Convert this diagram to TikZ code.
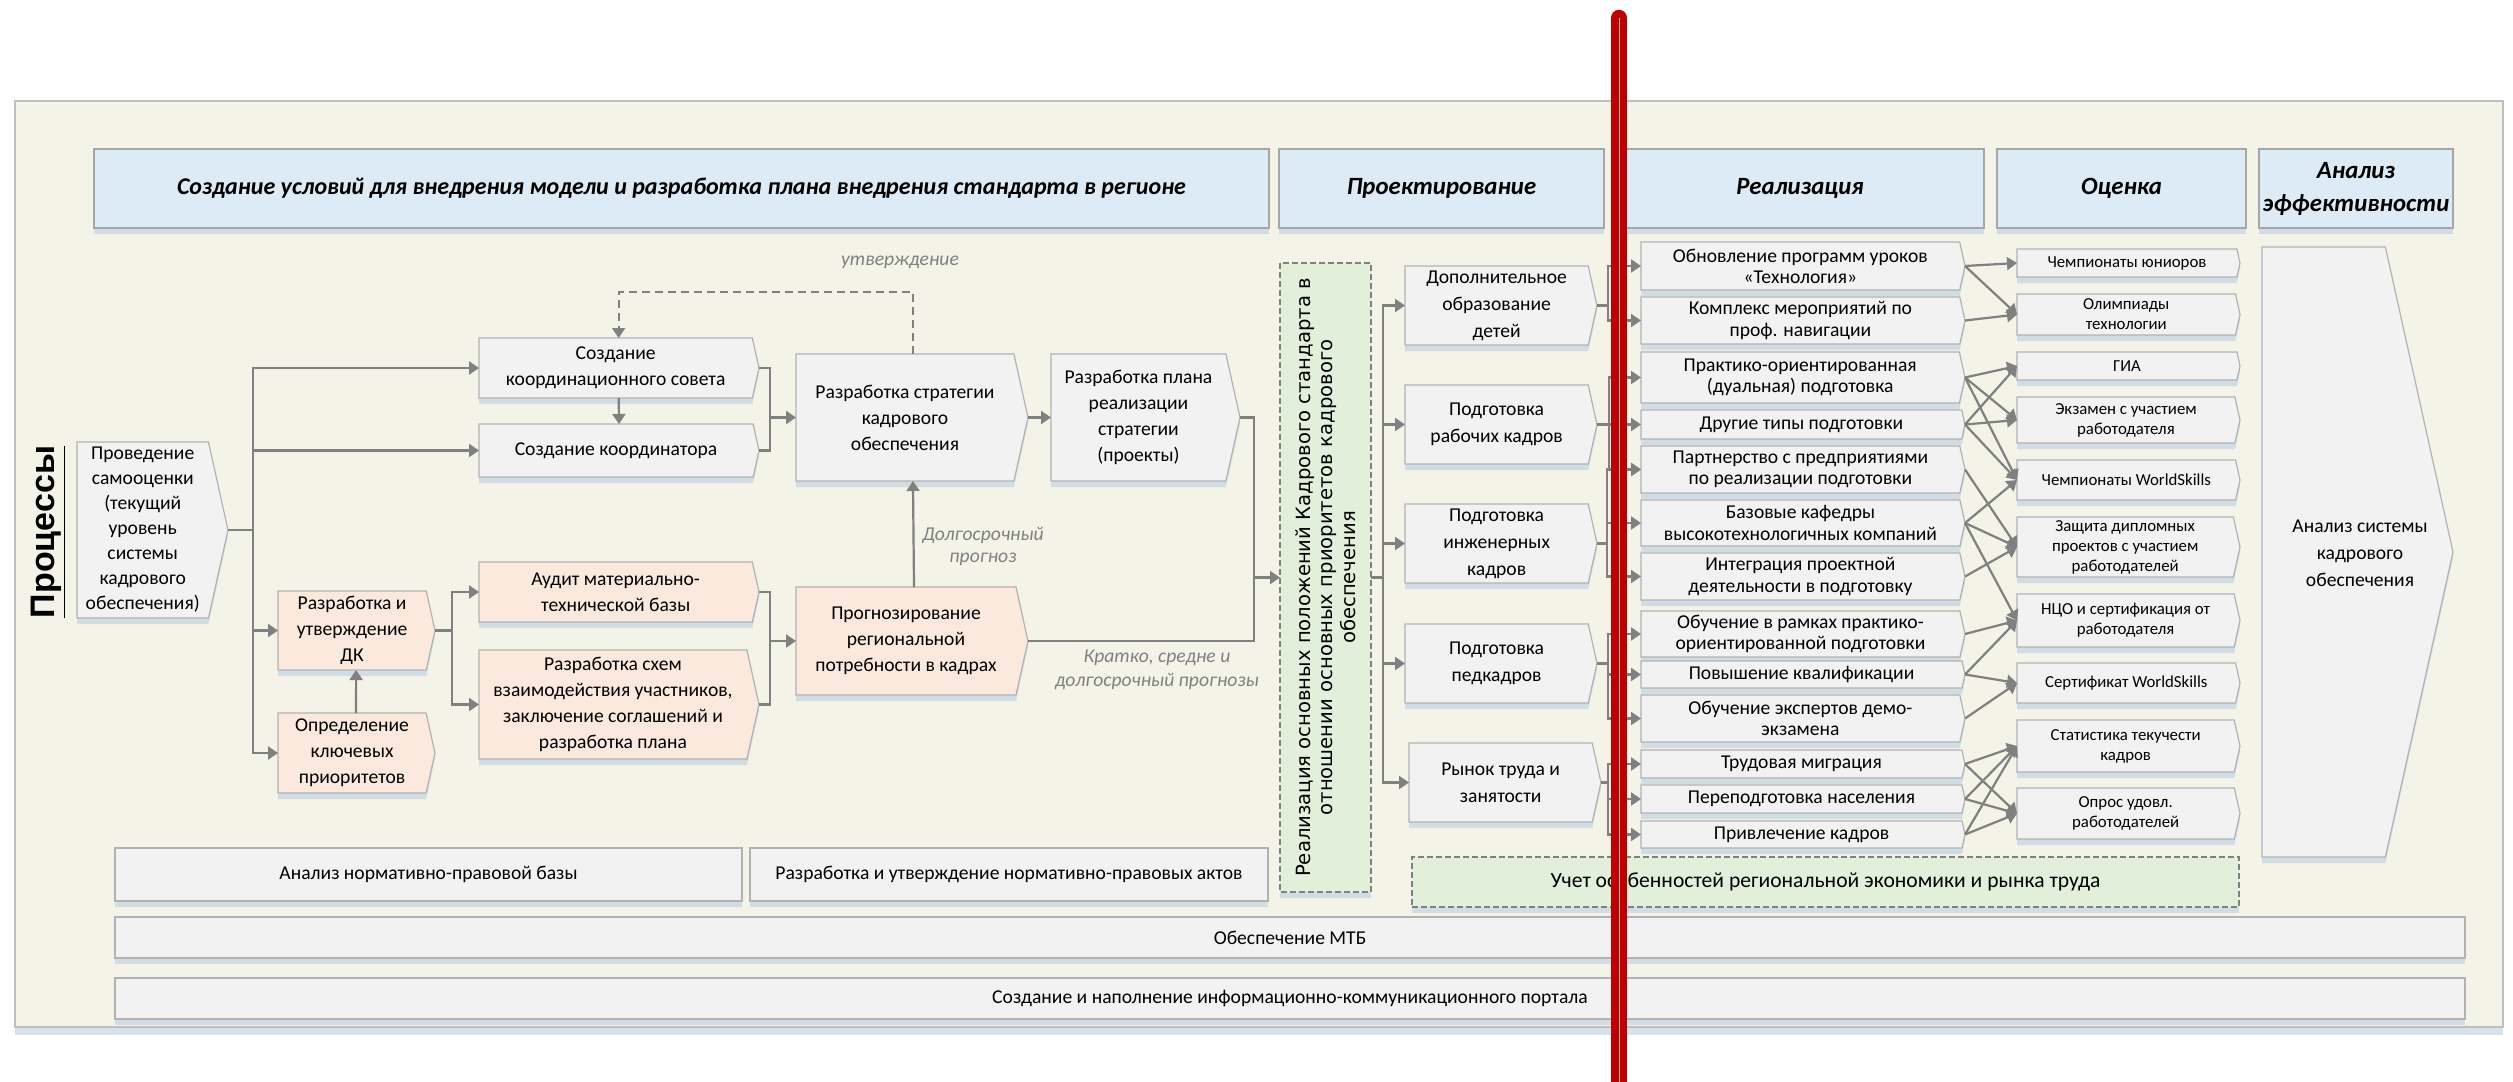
\documentclass[tikz,border=0pt]{standalone}
\usepackage{fontspec}
\setmainfont{Carlito}
\newfontfamily\vertfont{DejaVu Sans}
\newfontfamily\titlefont{Liberation Sans}
\usetikzlibrary{shapes.symbols,arrows.meta,shadows}

\definecolor{panelc}{RGB}{243,243,232}
\definecolor{panelb}{RGB}{191,191,191}
\definecolor{headc}{RGB}{221,235,247}
\definecolor{headb}{RGB}{166,166,166}
\definecolor{boxc}{RGB}{242,242,242}
\definecolor{boxb}{RGB}{178,178,178}
\definecolor{peachc}{RGB}{252,233,221}
\definecolor{greenc}{RGB}{226,239,218}
\definecolor{linec}{RGB}{128,128,128}
\definecolor{shadc}{RGB}{206,219,229}
\definecolor{redc}{RGB}{192,0,0}

\tikzset{
  sz/.style 2 args={minimum width=#1*0.5pt,minimum height=#2*0.5pt},
  base/.style={draw=boxb,line width=0.6pt,inner sep=1pt,outer sep=0pt,align=center,
    drop shadow={shadow xshift=0pt,shadow yshift=-3pt,fill=shadc,opacity=0.9}},
  head/.style={base,rectangle,fill=headc,draw=headb,
    font=\fontsize{12.4}{16.5}\selectfont\bfseries\itshape},
  tag/.style={base,signal,signal to=east,signal pointer angle=155,fill=boxc,anchor=west,
    font=\fontsize{9.8}{13}\selectfont},
  peach/.style={tag,fill=peachc},
  real/.style={tag,font=\fontsize{9.8}{10.6}\selectfont},
  eval/.style={tag,font=\fontsize{8.4}{10}\selectfont},
  plain/.style={base,rectangle,fill=boxc,font=\fontsize{9.8}{12}\selectfont},
  greenbox/.style={base,rectangle,fill=greenc,draw=linec,dash pattern=on 3pt off 1.5pt},
  line/.style={draw=linec,line width=1.1pt},
  arr/.style={line,-{Triangle[length=5pt,width=6.5pt]}},
  dline/.style={draw=linec,line width=0.9pt,dash pattern=on 4pt off 2.5pt},
  note/.style={text=linec,align=center,font=\fontsize{9.8}{11.5}\selectfont\itshape},
}

\begin{document}
\begin{tikzpicture}[x=0.5pt,y=0.5pt,yscale=-1,xscale=1]
\useasboundingbox (0,0) rectangle (2513,1082);

%Shape: Rectangle (panel)
\draw [draw=panelb,fill=panelc,line width=0.8pt,drop shadow={shadow xshift=0pt,shadow yshift=-4pt,fill=shadc,opacity=0.8}] (15,101) rectangle (2503,1027);

% Text Node
\node [rotate=90,font=\titlefont\fontsize{17}{17}\selectfont\bfseries] (procs) at (48,532) {\underline{Процессы}};

%Shape: Headers
\node [head,sz={1175}{79},font=\fontsize{12}{16.5}\selectfont\bfseries\itshape] (h1) at (681.5,188.5) {Создание условий для внедрения модели и разработка плана внедрения стандарта в регионе};
\node [head,sz={325}{79}] (h2) at (1441.5,188.5) {Проектирование};
\node [head,sz={368}{79}] (h3) at (1800,188.5) {Реализация};
\node [head,sz={249}{79}] (h4) at (2121.5,188.5) {Оценка};
\node [head,sz={194}{79}] (h5) at (2356,188.5) {Анализ\\эффективности};

%Shape: Process boxes
\node [tag,sz={151}{176},font=\fontsize{9.8}{12.5}\selectfont] (self) at (77,530) {Проведение\\самооценки\\(текущий\\уровень\\системы\\кадрового\\обеспечения)};
\node [tag,sz={280}{60}] (council) at (479,368) {Создание\\координационного совета};
\node [tag,sz={280}{53}] (coord) at (479,450.5) {Создание координатора};
\node [tag,sz={232}{127}] (strat) at (796,417.5) {Разработка стратегии\\кадрового\\обеспечения};
\node [tag,sz={189}{127}] (plan) at (1051,417.5) {Разработка плана\\реализации\\стратегии\\(проекты)};
\node [peach,sz={157}{79}] (dk) at (278,630.5) {Разработка и\\утверждение\\ДК};
\node [peach,sz={157}{80}] (prio) at (278,753) {Определение\\ключевых\\приоритетов};
\node [peach,sz={280}{60}] (audit) at (479,592) {Аудит материально-\\технической базы};
\node [peach,sz={280}{109}] (scheme) at (479,704.5) {Разработка схем\\взаимодействия участников,\\заключение соглашений и\\разработка плана};
\node [peach,sz={232}{108}] (fore) at (796,641) {Прогнозирование\\региональной\\потребности в кадрах};

% Text Node
\node [note] (appr) at (900,262) {утверждение};
\node [note,font=\fontsize{9.8}{11}\selectfont\itshape] (longf) at (983,546) {Долгосрочный\\прогноз};
\node [note,font=\fontsize{9.8}{12}\selectfont\itshape] (shortf) at (1157,670) {Кратко, средне и\\долгосрочный прогнозы};

%Shape: Rectangle (core)
\node [greenbox,rotate=90,sz={629}{91},font=\vertfont\fontsize{9.8}{11.2}\selectfont] (core) at (1325.5,577.5) {Реализация основных положений Кадрового стандарта в\\отношении основных приоритетов кадрового\\обеспечения};

%Shape: Design boxes
\node [tag,sz={192}{79},font=\fontsize{9.8}{13.5}\selectfont] (d1) at (1405,305.5) {Дополнительное\\образование\\детей};
\node [tag,sz={192}{79},font=\fontsize{9.8}{13.5}\selectfont] (d2) at (1405,424.5) {Подготовка\\рабочих кадров};
\node [tag,sz={192}{79},font=\fontsize{9.8}{13.5}\selectfont] (d3) at (1405,543.5) {Подготовка\\инженерных\\кадров};
\node [tag,sz={192}{79},font=\fontsize{9.8}{13.5}\selectfont] (d4) at (1405,663.5) {Подготовка\\педкадров};
\node [tag,sz={192}{79},font=\fontsize{9.8}{13.5}\selectfont] (d5) at (1409,782.5) {Рынок труда и\\занятости};

%Shape: Realisation boxes
\node [real,sz={324}{48}] (r1) at (1641,266) {Обновление программ уроков\\«Технология»};
\node [real,sz={324}{47}] (r2) at (1641,320.5) {Комплекс мероприятий по\\проф. навигации};
\node [real,sz={324}{51}] (r3) at (1641,377.5) {Практико-ориентированная\\(дуальная) подготовка};
\node [real,sz={324}{29}] (r4) at (1641,424.5) {Другие типы подготовки};
\node [real,sz={324}{47}] (r5) at (1641,469.5) {Партнерство с предприятиями\\по реализации подготовки};
\node [real,sz={324}{46}] (r6) at (1641,523) {Базовые кафедры\\высокотехнологичных компаний};
\node [real,sz={324}{47}] (r7) at (1641,576.5) {Интеграция проектной\\деятельности в подготовку};
\node [real,sz={324}{46}] (r8) at (1641,634) {Обучение в рамках практико-\\ориентированной подготовки};
\node [real,sz={324}{27}] (r9) at (1641,674.5) {Повышение квалификации};
\node [real,sz={324}{47}] (r10) at (1641,718.5) {Обучение экспертов демо-\\экзамена};
\node [real,sz={324}{28}] (r11) at (1641,764) {Трудовая миграция};
\node [real,sz={324}{28}] (r12) at (1641,799) {Переподготовка населения};
\node [real,sz={324}{27}] (r13) at (1641,834.5) {Привлечение кадров};

%Shape: Evaluation boxes
\node [eval,sz={223}{28}] (ea) at (2017,263) {Чемпионаты юниоров};
\node [eval,sz={223}{41}] (eb) at (2017,314.5) {Олимпиады\\технологии};
\node [eval,sz={223}{28}] (ec) at (2017,366) {ГИА};
\node [eval,sz={223}{46}] (ed) at (2017,420) {Экзамен с участием\\работодателя};
\node [eval,sz={223}{40}] (ee) at (2017,480) {Чемпионаты WorldSkills};
\node [eval,sz={223}{60}] (ef) at (2017,547) {Защита дипломных\\проектов с участием\\работодателей};
\node [eval,sz={223}{53}] (eg) at (2017,620.5) {НЦО и сертификация от\\работодателя};
\node [eval,sz={223}{40}] (eh) at (2017,683) {Сертификат WorldSkills};
\node [eval,sz={223}{52}] (ei) at (2017,746) {Статистика текучести\\кадров};
\node [eval,sz={223}{51}] (ej) at (2017,813.5) {Опрос удовл.\\работодателей};

%Shape: Analysis box
\node [tag,sz={191}{610}] (anal) at (2262,552) {};
% Text Node
\node [font=\fontsize{9.8}{13.4}\selectfont,align=center] (analt) at (2360,553) {Анализ системы\\кадрового\\обеспечения};

%Shape: Bottom boxes
\node [plain,sz={627}{53}] (norm) at (428.5,874.5) {Анализ нормативно-правовой базы};
\node [plain,sz={518}{53}] (acts) at (1009,874.5) {Разработка и утверждение нормативно-правовых актов};
\node [greenbox,sz={827}{50},font=\fontsize{10.8}{12}\selectfont] (econ) at (1825.5,882) {Учет особенностей региональной экономики и рынка труда};
\node [plain,sz={2350}{41}] (mtb) at (1290,937.5) {Обеспечение МТБ};
\node [plain,sz={2350}{41}] (portal) at (1290,998.5) {Создание и наполнение информационно-коммуникационного портала};

% Junctions
\coordinate (t0) at (253,530);
\coordinate (t1) at (452,630.5);
\coordinate (t2) at (770,417.5);
\coordinate (t3) at (770,641);
\coordinate (t4) at (1254,577.5);
\coordinate (t5) at (1383,577.5);
\coordinate (ap) at (770,292);
\coordinate (b1) at (1608,305.5);
\coordinate (b2) at (1609,424.5);
\coordinate (b3) at (1607,543.5);
\coordinate (b4) at (1608,663.5);
\coordinate (b5) at (1608,782.5);

%Straight Lines (left part)
\draw [arr]  (self.east) -- (t0) |- (council.west) ;
\draw [arr]  (t0) |- (coord.west) ;
\draw [arr]  (t0) |- (dk.west) ;
\draw [arr]  (t0) |- (prio.west) ;
\draw [arr]  ([xshift=2pt]prio.north) -- ([xshift=2pt]dk.south) ;
\draw [arr]  (dk.east) -- (t1) |- (audit.west) ;
\draw [arr]  (t1) |- (scheme.west) ;
\draw [arr]  ([xshift=1.5pt]council.south) -- ([xshift=1.5pt]coord.north) ;
\draw [line] (council.east) -| (t2) ;
\draw [line] (coord.east) -| (t2) ;
\draw [arr]  (t2) -- (strat.west) ;
\draw [arr]  (strat.east) -- (plan.west) ;
\draw [dline,-{Triangle[length=5pt,width=6.5pt]}] ([xshift=4pt]strat.north) |- (ap) -| ([xshift=1.5pt]council.north) ;
\draw [line] (audit.east) -| (t3) ;
\draw [line] (scheme.east) -| (t3) ;
\draw [arr]  (t3) -- (fore.west) ;
\draw [arr]  ([xshift=4pt]fore.north) -- ([xshift=4pt]strat.south) ;
\draw [line] (plan.east) -| (t4) ;
\draw [line] (fore.east) -| (t4) ;
\draw [arr]  (t4) -- (core.north) ;

%Straight Lines (design)
\draw [line] (core.south) -- (t5) ;
\draw [arr]  (t5) |- (d1.west) ;
\draw [arr]  (t5) |- (d2.west) ;
\draw [arr]  (t5) |- (d3.west) ;
\draw [arr]  (t5) |- (d4.west) ;
\draw [arr]  (t5) |- (d5.west) ;

%Straight Lines (realisation)
\draw [line] (d1.east) -- (b1) ;
\draw [arr]  (b1) |- (r1.west) ;
\draw [arr]  (b1) |- (r2.west) ;
\draw [line] (d2.east) -- (b2) ;
\draw [arr]  (b2) |- (r3.west) ;
\draw [arr]  (b2) |- (r4.west) ;
\draw [arr]  (b2) |- (r5.west) ;
\draw [line] (d3.east) -- (b3) ;
\draw [arr]  (b3) |- (r5.west) ;
\draw [arr]  (b3) |- (r6.west) ;
\draw [arr]  (b3) |- (r7.west) ;
\draw [line] (d4.east) -- (b4) ;
\draw [arr]  (b4) |- (r8.west) ;
\draw [arr]  (b4) |- (r9.west) ;
\draw [arr]  (b4) |- (r10.west) ;
\draw [line] (d5.east) -- (b5) ;
\draw [arr]  (b5) |- (r11.west) ;
\draw [arr]  (b5) |- (r12.west) ;
\draw [arr]  (b5) |- (r13.west) ;

%Straight Lines (evaluation)
\draw [arr]  (r1.east) -- (ea.west) ;
\draw [arr]  (r1.east) -- (eb.west) ;
\draw [arr]  (r2.east) -- (eb.west) ;
\draw [arr]  (r3.east) -- (ec.west) ;
\draw [arr]  (r3.east) -- (ed.west) ;
\draw [arr]  (r3.east) -- (ee.west) ;
\draw [arr]  (r4.east) -- (ec.west) ;
\draw [arr]  (r4.east) -- (ed.west) ;
\draw [arr]  (r4.east) -- (ee.west) ;
\draw [arr]  (r5.east) -- (ef.west) ;
\draw [arr]  (r6.east) -- (ee.west) ;
\draw [arr]  (r6.east) -- (ef.west) ;
\draw [arr]  (r6.east) -- (eg.west) ;
\draw [arr]  (r7.east) -- (ef.west) ;
\draw [arr]  (r8.east) -- (eg.west) ;
\draw [arr]  (r9.east) -- (eg.west) ;
\draw [arr]  (r9.east) -- (eh.west) ;
\draw [arr]  (r10.east) -- (eh.west) ;
\draw [arr]  (r11.east) -- (ei.west) ;
\draw [arr]  (r11.east) -- (ej.west) ;
\draw [arr]  (r12.east) -- (ei.west) ;
\draw [arr]  (r12.east) -- (ej.west) ;
\draw [arr]  (r13.east) -- (ei.west) ;
\draw [arr]  (r13.east) -- (ej.west) ;

%Straight Lines (red marker)
\draw [redc,line width=8.2pt,line cap=round] (1619,18) -- (1619,1120) ;
\draw [redc!25!white,line width=0.5pt] (1619,18) -- (1619,1120) ;

\end{tikzpicture}
\end{document}
